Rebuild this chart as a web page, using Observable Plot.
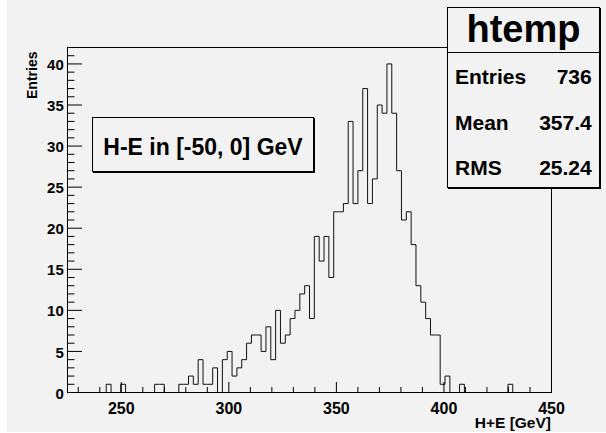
<!DOCTYPE html>
<html><head><meta charset="utf-8">
<script src="https://cdn.jsdelivr.net/npm/d3@7"></script>
<script src="https://cdn.jsdelivr.net/npm/@observablehq/plot@0.6"></script>
<style>
html,body{margin:0;padding:0;background:#fff;}
#wrap{position:relative;width:606px;height:433px;overflow:hidden;font-family:"Liberation Sans",Arial,Helvetica,sans-serif;font-weight:bold;color:#000;}
#bg{position:absolute;left:7px;top:0;width:599px;height:432px;background:#f2f2f2;}
#chart{position:absolute;left:0;top:0;}
.box{position:absolute;background:#f2f2f2;border:1px solid #000;box-shadow:1px 1px 0 #000;box-sizing:border-box;}
.t{position:absolute;white-space:nowrap;line-height:1;}
</style></head><body>
<div id="wrap">
  <div id="bg"></div>
  <div id="chart"></div>
  <div class="t" id="ytitle" style="font-size:14px;left:25px;top:52px;"></div>
  <div class="t" id="xtitle" style="font-size:15.5px;right:55px;top:415px;"></div>
  <div class="box" style="left:92px;top:117px;width:222px;height:55px;"></div>
  <div class="t" id="pave" style="font-size:23px;left:92px;width:222px;text-align:center;top:135.5px;"></div>
  <div class="box" style="left:447px;top:7px;width:153px;height:181px;"></div>
  <div style="position:absolute;left:447px;top:52px;width:153px;height:1px;background:#000;"></div>
  <div class="t" id="stitle" style="font-size:38px;left:447px;width:153px;text-align:center;top:9.5px;"></div>
  <div id="rows"></div>
</div>
<script>
// Histogram definition (htemp): 100 bins from 225 to 450 GeV
const binLow = 225;
const binHigh = 450;
const counts = [
  0,0,0,0,0,0,0,0,1,0,
  0,1,0,0,0,0,0,0,1,1,
  0,0,0,1,1,2,1,4,1,1,
  3,0,4,5,2,3,4,6,7,7,
  5,8,4,10,6,7,9,10,12,13,
  9,19,16,19,14,22,22,23,33,23,
  27,37,23,26,35,34,40,34,27,21,
  22,18,13,11,9,7,7,1,2,0,
  0,1,0,0,0,0,0,0,0,0,
  0,1,0,0,0,0,0,0,0,0
];
const yMajorTicks = [0,5,10,15,20,25,30,35,40];
const xMajorTicks = [250,300,350,400,450];
const xMinorTicks = [230,240,260,270,280,290,310,320,330,340,360,370,380,390,410,420,430,440];
const yMinorTicks = [1,2,3,4,6,7,8,9,11,12,13,14,16,17,18,19,21,22,23,24,26,27,28,29,31,32,33,34,36,37,38,39,41,42];
const yTitle = "Entries";
const xTitle = "H+E [GeV]";
const paveText = "H-E in [-50, 0] GeV";
const statsTitle = "htemp";
const statNames = ["Entries","Mean","RMS"];
const statValues = ["736","357.4","25.24"];

const nBins = counts.length;
const bw = (binHigh - binLow) / nBins;
const steps = counts.map((c, i) => ({x: binLow + i * bw, y: c}));
steps.push({x: binHigh, y: counts[nBins - 1]});

const W = 606, H = 433, mL = 67, mR = 55, mT = 47, mB = 41;
const fw = W - mL - mR, fh = H - mT - mB;

const chart = Plot.plot({
  width: W, height: H,
  marginLeft: mL, marginRight: mR, marginTop: mT, marginBottom: mB,
  style: {background: "transparent", fontFamily: "Liberation Sans, Arial, sans-serif", fontWeight: "bold", color: "black", overflow: "visible"},
  x: {domain: [binLow, binHigh], axis: null},
  y: {domain: [0, 42], axis: null},
  marks: [
    Plot.line(steps, {x: "x", y: "y", curve: "step-after", stroke: "#111", strokeWidth: 1}),
    Plot.tickY(yMajorTicks, {y: d => d, insetRight: fw - 15, stroke: "black"}),
    Plot.tickY(yMinorTicks, {y: d => d, insetRight: fw - 7.5, stroke: "black"}),
    Plot.tickX(xMajorTicks, {x: d => d, insetTop: fh - 10, stroke: "black"}),
    Plot.tickX(xMinorTicks, {x: d => d, insetTop: fh - 5, stroke: "black"}),
    Plot.axisY({ticks: yMajorTicks, tickSize: 0, tickPadding: 3.7, fontSize: 15, dy: 1.3, label: null}),
    Plot.axisX({ticks: xMajorTicks, tickSize: 0, tickPadding: 10, fontSize: 16, label: null}),
    Plot.frame({stroke: "black"})
  ]
});
document.getElementById("chart").appendChild(chart);

document.getElementById("xtitle").textContent = xTitle;
document.getElementById("pave").textContent = paveText;
document.getElementById("stitle").textContent = statsTitle;

// rotated y title: reads bottom-to-top, its end near the frame top, centred at x~32
(function(){
  const el = document.getElementById("ytitle");
  el.textContent = yTitle;
  const w = el.offsetWidth, h = el.offsetHeight;
  el.style.left = (32 - h / 2) + "px";
  el.style.top = (51.7 + w) + "px";
  el.style.transformOrigin = "0 0";
  el.style.transform = "rotate(-90deg)";
})();

const rows = document.getElementById("rows");
const baselines = [83.3, 130, 175];
statNames.forEach((n, i) => {
  const a = document.createElement("div");
  a.className = "t"; a.style.fontSize = "21px";
  a.style.left = "455px"; a.style.top = (baselines[i] - 0.8465 * 21) + "px";
  a.textContent = n; rows.appendChild(a);
  const b = document.createElement("div");
  b.className = "t"; b.style.fontSize = "21px";
  b.style.right = "14.3px"; b.style.top = (baselines[i] - 0.8465 * 21) + "px";
  b.textContent = statValues[i]; rows.appendChild(b);
});
</script>
</body></html>
